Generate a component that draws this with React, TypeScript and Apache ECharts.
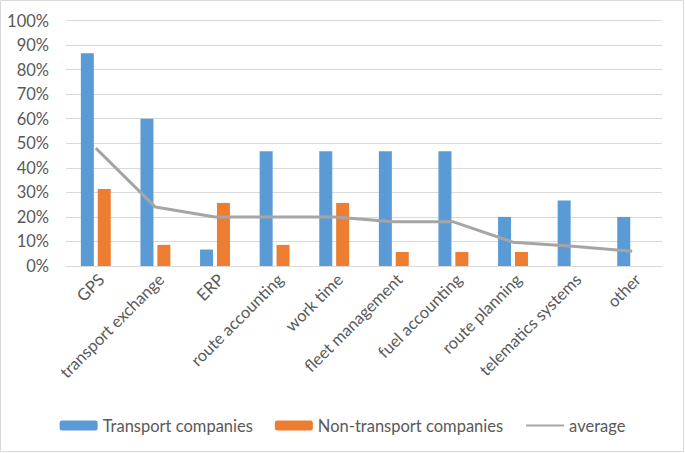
import React, { useEffect, useRef } from "react";
import * as echarts from "echarts";

const categories = [
  "GPS",
  "transport exchange",
  "ERP",
  "route accounting",
  "work time",
  "fleet management",
  "fuel accounting",
  "route planning",
  "telematics systems",
  "other",
];
const transport = [86.7, 60, 6.7, 46.7, 46.7, 46.7, 46.7, 20, 26.7, 20];
const nonTransport = [31.4, 8.6, 25.7, 8.6, 25.7, 5.7, 5.7, 5.7, 0, 0];
const average = [48, 24, 20, 20, 20, 18, 18, 9.7, 8, 6];
const yTicks = [0, 10, 20, 30, 40, 50, 60, 70, 80, 90, 100];

const FONT = "Lato, 'Open Sans', sans-serif";
const TEXT = "#595959";

export default function App() {
  const ref = useRef<HTMLDivElement>(null);
  useEffect(() => {
    if (!ref.current) return;
    const chart = echarts.init(ref.current, null, { renderer: "svg" });
    chart.setOption({
      animation: false,
      backgroundColor: "#ffffff",
      textStyle: { fontFamily: FONT },
      graphic: [
        {
          type: "rect",
          shape: { x: 0.5, y: 0.5, width: 683, height: 451 },
          style: { fill: "none", stroke: "#D9D9D9", lineWidth: 1 },
          silent: true,
        },
      ],
      grid: { left: 66, right: 23, top: 20.5, bottom: 187, containLabel: false },
      legend: {
        bottom: 14,
        left: "center",
        itemWidth: 38,
        itemHeight: 10,
        itemGap: 22,
        textStyle: { color: TEXT, fontSize: 16.5, fontFamily: FONT },
        data: [
          "Transport companies",
          "Non-transport companies",
          { name: "average", itemStyle: { opacity: 0 } },
        ],
      },
      xAxis: {
        type: "category",
        data: categories,
        axisLine: { lineStyle: { color: "#D9D9D9", width: 1 } },
        axisTick: { show: false },
        axisLabel: {
          rotate: 45,
          interval: 0,
          margin: 5,
          color: TEXT,
          fontSize: 16.5,
          lineHeight: 16,
          fontFamily: FONT,
          align: "right",
          verticalAlign: "top",
        },
      },
      yAxis: {
        type: "value",
        min: 0,
        max: 100,
        interval: 10,
        axisLine: { show: false },
        axisTick: { show: false },
        splitLine: { lineStyle: { color: "#D9D9D9", width: 1 } },
        axisLabel: {
          color: TEXT,
          fontSize: 16.5,
          fontFamily: FONT,
          margin: 17,
          formatter: (v: number) => (yTicks.includes(v) ? `${v}%` : ""),
        },
      },
      series: [
        {
          name: "Transport companies",
          type: "bar",
          data: transport,
          barWidth: 13,
          barGap: "30%",
          itemStyle: { color: "#5B9BD5" },
        },
        {
          name: "Non-transport companies",
          type: "bar",
          data: nonTransport,
          barWidth: 13,
          barGap: "30%",
          itemStyle: { color: "#ED7D31" },
        },
        {
          name: "average",
          type: "line",
          data: average,
          symbol: "none",
          lineStyle: { color: "#A5A5A5", width: 3 },
          itemStyle: { color: "#A5A5A5" },
        },
      ],
    });
    return () => chart.dispose();
  }, []);
  return (
    <div
      ref={ref}
      style={{ position: "absolute", left: 0, top: 0, width: 685, height: 453 }}
    />
  );
}
